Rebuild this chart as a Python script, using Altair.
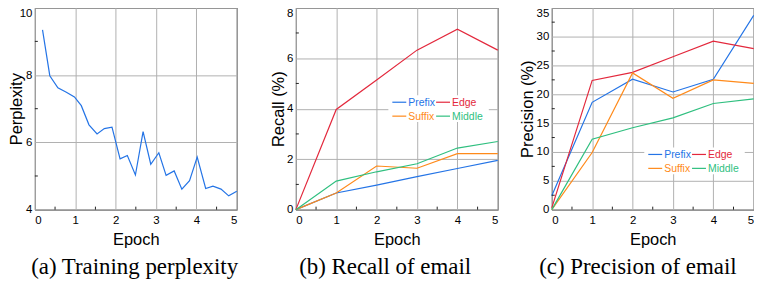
import altair as alt
import pandas as pd

# ---------------- data ----------------
epoch_a = [0.19, 0.37, 0.57, 0.78, 0.98, 1.15, 1.34, 1.54, 1.72, 1.91, 2.11, 2.29, 2.49,
           2.68, 2.87, 3.07, 3.25, 3.45, 3.64, 3.83, 4.02, 4.23, 4.41, 4.61, 4.80, 5.0]
perplexity = [9.34, 7.98, 7.62, 7.49, 7.35, 7.09, 6.52, 6.25, 6.41, 6.45, 5.51, 5.61, 5.03,
              6.32, 5.35, 5.69, 5.02, 5.15, 4.61, 4.86, 5.56, 4.63, 4.70, 4.61, 4.41, 4.55]

epochs = [0, 1, 2, 3, 4, 5]
series = ["Prefix", "Edge", "Suffix", "Middle"]
colors = ["#2474e6", "#e3283c", "#ff8a1a", "#2fbf7f"]

recall = {
    "Prefix": [0, 0.66, 0.97, 1.31, 1.63, 1.95],
    "Suffix": [0, 0.66, 1.73, 1.64, 2.22, 2.22],
    "Edge":   [0, 3.97, 5.14, 6.32, 7.15, 6.32],
    "Middle": [0, 1.13, 1.50, 1.82, 2.44, 2.70],
}
precision = {
    "Prefix": [2.4, 18.6, 22.6, 20.4, 22.6, 33.7],
    "Suffix": [0, 9.9, 23.7, 19.3, 22.5, 21.9],
    "Edge":   [0.3, 22.4, 23.8, 26.5, 29.2, 27.9],
    "Middle": [0, 12.2, 14.2, 15.9, 18.4, 19.2],
}

captions = ["(a) Training perplexity", "(b) Recall of email", "(c) Precision of email"]
y_titles = ["Perplexity", "Recall (%)", "Precision (%)"]
y_ticks_a = [4, 6, 8, 10]
y_ticks_b = [0, 2, 4, 6, 8]
y_ticks_c = [0, 5, 10, 15, 20, 25, 30, 35]
x_minor = [0.5, 1.5, 2.5, 3.5, 4.5]
y_minor_a = [5, 7, 9]
y_minor_b = [1, 3, 5, 7]
y_minor_c = [2.5, 7.5, 12.5, 17.5, 22.5, 27.5, 32.5]

W, H = 203, 203
SANS = "Liberation Sans"
SERIF = "Liberation Serif"


def caption(text, dx=0):
    return alt.TitleParams(text=text, orient="bottom", frame="bounds", anchor="middle",
                           font=SERIF, fontSize=23, fontWeight="normal", color="black",
                           offset=8, dx=dx)


def scales(ydomain, yticks, ytitle, title_pad):
    xs = alt.Scale(domain=[0, 5], nice=False)
    ys = alt.Scale(domain=ydomain, nice=False)
    xa = alt.Axis(title="Epoch", values=epochs, format="d")
    ya = alt.Axis(title=ytitle, values=yticks, titlePadding=title_pad,
                  labelBaseline={"condition": {"test": f"datum.value == {ydomain[1]}",
                                               "value": "top"},
                                 "value": "middle"})
    return xs, ys, xa, ya


def minor_ticks(xs, ys, xa, ya, yminor):
    xt = alt.Chart(pd.DataFrame({"Epoch": x_minor})).mark_rule(color="#222", strokeWidth=1).encode(
        x=alt.X("Epoch:Q", scale=xs, axis=xa), y=alt.value(H), y2=alt.value(H - 3))
    yt = alt.Chart(pd.DataFrame({"Value": yminor})).mark_rule(color="#222", strokeWidth=1).encode(
        y=alt.Y("Value:Q", scale=ys, axis=ya), x=alt.value(0), x2=alt.value(3))
    return [xt, yt]


def legend_layers(y0):
    box = alt.Chart(pd.DataFrame({"a": [0]})).mark_rect(fill="white").encode(
        x=alt.value(93), x2=alt.value(194), y=alt.value(y0 - 7), y2=alt.value(y0 + 20))
    items = []
    for i, (name, col) in enumerate(zip(series, colors)):
        cx = 97 if i % 2 == 0 else 141
        cy = y0 if i < 2 else y0 + 14
        df = pd.DataFrame({"name": [name]})
        items.append(alt.Chart(df).mark_rule(color=col, strokeWidth=1.2).encode(
            x=alt.value(cx), x2=alt.value(cx + 14), y=alt.value(cy)))
        items.append(alt.Chart(df).mark_text(align="left", baseline="middle", font=SANS,
                                             fontSize=10.5, color=col).encode(
            x=alt.value(cx + 16), y=alt.value(cy + 0.5), text="name:N"))
    return box, items


# ---------------- panel a ----------------
df_a = pd.DataFrame({"Epoch": epoch_a, "Value": perplexity})
xs, ys, xa, ya = scales([4, 10], y_ticks_a, y_titles[0], -5)
line_a = alt.Chart(df_a).mark_line(color=colors[0], strokeWidth=1.2).encode(
    x=alt.X("Epoch:Q", scale=xs, axis=xa), y=alt.Y("Value:Q", scale=ys, axis=ya))
panel_a = alt.layer(line_a, *minor_ticks(xs, ys, xa, ya, y_minor_a)).properties(
    width=W, height=H, title=caption(captions[0], dx=11))


# ---------------- panels b, c ----------------
def multi_panel(data, ydomain, yticks, ytitle, yminor, legend_y, cap):
    rows = []
    for s in series:
        for e, v in zip(epochs, data[s]):
            rows.append({"Epoch": e, "Value": v, "Series": s})
    df = pd.DataFrame(rows)
    xs, ys, xa, ya = scales(ydomain, yticks, ytitle, 0.5)
    lines = alt.Chart(df).mark_line(strokeWidth=1.2).encode(
        x=alt.X("Epoch:Q", scale=xs, axis=xa),
        y=alt.Y("Value:Q", scale=ys, axis=ya),
        color=alt.Color("Series:N", scale=alt.Scale(domain=series, range=colors), legend=None),
        order=alt.Order("Epoch:Q"))
    box, items = legend_layers(legend_y)
    return alt.layer(lines, box, *minor_ticks(xs, ys, xa, ya, yminor), *items).properties(
        width=W, height=H, title=caption(cap))


panel_b = multi_panel(recall, [0, 8], y_ticks_b, y_titles[1], y_minor_b, 95, captions[1])
panel_c = multi_panel(precision, [0, 35], y_ticks_c, y_titles[2], y_minor_c, 147.5, captions[2])

chart = alt.hconcat(panel_a, alt.hconcat(panel_b, panel_c, spacing=18.3), spacing=29.4).properties(
    padding={"left": -1, "top": -2, "right": -3, "bottom": 0}
).configure_view(
    stroke="#111", strokeWidth=1
).configure_axis(
    grid=True, gridColor="#b0b0b0", gridWidth=1, domain=False, ticks=False,
    labelFont=SANS, labelFontSize=11.5, labelColor="black", labelPadding=5,
    titleFont=SANS, titleFontSize=16.5, titleFontWeight="normal", titleColor="black",
    titlePadding=0
).configure_axisX(
    labelPadding=5, titlePadding=6
).configure_axisY(
    labelPadding=3
)

chart.save("out.html", embed_options={"renderer": "svg", "actions": False})
